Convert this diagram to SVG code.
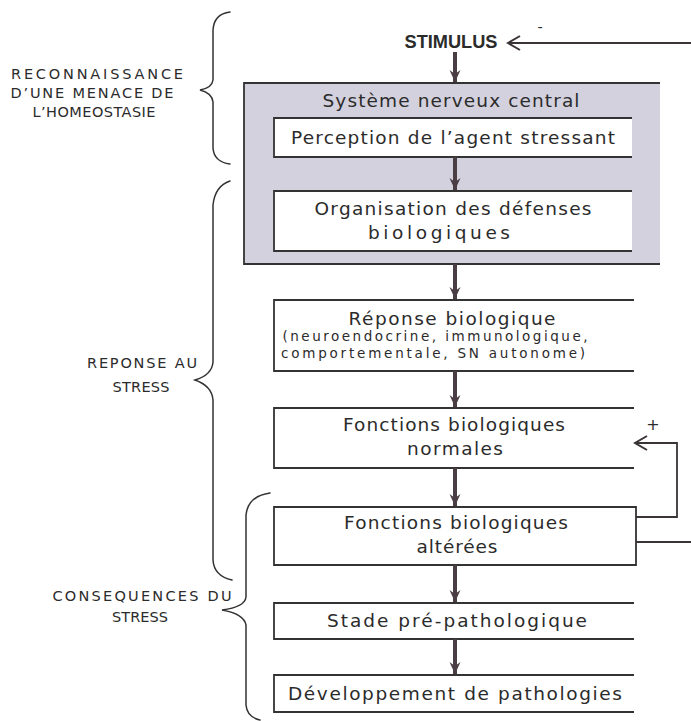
<svg xmlns="http://www.w3.org/2000/svg" width="691" height="721" viewBox="0 0 691 721">
<style>
.t{font-family:"DejaVu Sans","Liberation Sans",sans-serif;font-size:18.5px;fill:#2b2b2b;text-anchor:middle}
.s{font-family:"DejaVu Sans","Liberation Sans",sans-serif;font-size:13.5px;fill:#2b2b2b;text-anchor:middle}
.l{font-family:"DejaVu Sans","Liberation Sans",sans-serif;font-size:14.5px;fill:#2b2b2b;text-anchor:middle}
.b{fill:#fff;stroke:none}
.e{fill:none;stroke:#333;stroke-width:1.8}
.br{fill:none;stroke:#333;stroke-width:1.5;stroke-linecap:round}
.ar{stroke:#4a3e44;stroke-width:4;fill:none}
.fb{stroke:#3a3436;stroke-width:1.8;fill:none}
</style>
<defs>
<marker id="ah" markerUnits="userSpaceOnUse" markerWidth="14" markerHeight="16" refX="12" refY="7" orient="auto" viewBox="0 0 14 14">
<path d="M0,1.5 L12,7 L0,12.5 L4,7 z" fill="#4a3e44"/>
</marker>
<marker id="ch" markerUnits="userSpaceOnUse" markerWidth="16" markerHeight="16" refX="14" refY="8" orient="auto" viewBox="0 0 16 16">
<path d="M2,1 L14,8 L2,15" fill="none" stroke="#3a3436" stroke-width="2"/>
</marker>
</defs>

<g id="stimulus">
<text x="451" y="48" style="font-family:'Liberation Sans',Arial,sans-serif;font-size:18px;font-weight:bold;fill:#2b2b2b" text-anchor="middle" textLength="93" lengthAdjust="spacingAndGlyphs">STIMULUS</text>
<text x="540" y="32" class="l">-</text>
</g>

<g id="snc">
<rect x="244" y="83" width="416" height="181" fill="#d3d1dd"/>
<path class="e" d="M660,83 H244 V264 H660"/>
<text x="451" y="107" class="t" textLength="257" lengthAdjust="spacing">Système nerveux central</text>
</g>

<g id="perception">
<rect class="b" x="274" y="118" width="358" height="39"/>
<path class="e" d="M632,118 H274 V157 H632"/>
<text x="453" y="144" class="t" textLength="324" lengthAdjust="spacing">Perception de l’agent stressant</text>
</g>

<g id="organisation">
<rect class="b" x="274" y="191" width="358" height="60"/>
<path class="e" d="M632,191 H274 V251 H632"/>
<text x="453" y="215" class="t" textLength="277" lengthAdjust="spacing">Organisation des défenses</text>
<text x="439" y="239" class="t" textLength="142" lengthAdjust="spacing">biologiques</text>
</g>

<g id="reponse">
<rect class="b" x="274" y="300" width="360" height="71"/>
<path class="e" d="M634,300 H274 V371 H634"/>
<text x="452" y="325" class="t" textLength="207" lengthAdjust="spacing">Réponse biologique</text>
<text x="435" y="341" class="s" textLength="305" lengthAdjust="spacing">(neuroendocrine, immunologique,</text>
<text x="433" y="358" class="s" textLength="304" lengthAdjust="spacing">comportementale, SN autonome)</text>
</g>

<g id="normales">
<rect class="b" x="274" y="408" width="360" height="60"/>
<path class="e" d="M634,408 H274 V468 H634"/>
<text x="454" y="431" class="t" textLength="222" lengthAdjust="spacing">Fonctions biologiques</text>
<text x="455" y="455" class="t" textLength="96" lengthAdjust="spacing">normales</text>
</g>

<g id="alterees">
<rect class="b" x="274" y="507" width="362" height="58"/>
<path class="e" d="M274,507 H636 V565 H274 Z"/>
<text x="456" y="529" class="t" textLength="224" lengthAdjust="spacing">Fonctions biologiques</text>
<text x="457" y="553" class="t" textLength="81" lengthAdjust="spacing">altérées</text>
</g>

<g id="stade">
<rect class="b" x="274" y="603" width="360" height="36"/>
<path class="e" d="M634,603 H274 V639 H634"/>
<text x="457" y="627" class="t" textLength="260" lengthAdjust="spacing">Stade pré-pathologique</text>
</g>

<g id="developpement">
<rect class="b" x="274" y="675" width="360" height="37"/>
<path class="e" d="M634,675 H274 V712 H634"/>
<text x="455" y="700" class="t" textLength="334" lengthAdjust="spacing">Développement de pathologies</text>
</g>

<g id="labels">
<text x="97" y="79" class="l" textLength="172" lengthAdjust="spacing">RECONNAISSANCE</text>
<text x="92" y="98" class="l" textLength="163" lengthAdjust="spacing">D’UNE MENACE DE</text>
<text x="94" y="117" class="l" textLength="123" lengthAdjust="spacing">L’HOMEOSTASIE</text>
<text x="142" y="368" class="l" textLength="110" lengthAdjust="spacing">REPONSE AU</text>
<text x="141" y="392" class="l" textLength="57" lengthAdjust="spacing">STRESS</text>
<text x="142" y="601" class="l" textLength="179" lengthAdjust="spacing">CONSEQUENCES DU</text>
<text x="140" y="622" class="l" textLength="56" lengthAdjust="spacing">STRESS</text>
</g>

<g id="braces">
<path class="br" d="M230,12 Q214,14 213,30 V80 Q212,88 200,90 Q212,93 213,102 V148 Q214,162 230,164"/>
<path class="br" d="M230,181 Q215,186 213,205 V362 Q212,375 195,380 Q212,386 213,400 V560 Q214,576 232,580"/>
<path class="br" d="M270,493 Q248,496 246,515 V597 Q245,607 222,610 Q244,614 246,625 V705 Q247,717 260,720"/>
</g>

<g id="connectors">
<line class="ar" x1="455" y1="52" x2="455" y2="82" marker-end="url(#ah)"/>
<line class="ar" x1="455" y1="157" x2="455" y2="190" marker-end="url(#ah)"/>
<line class="ar" x1="455" y1="264" x2="455" y2="299" marker-end="url(#ah)"/>
<line class="ar" x1="455" y1="371" x2="455" y2="407" marker-end="url(#ah)"/>
<line class="ar" x1="455" y1="468" x2="455" y2="506" marker-end="url(#ah)"/>
<line class="ar" x1="455" y1="565" x2="455" y2="602" marker-end="url(#ah)"/>
<line class="ar" x1="455" y1="639" x2="455" y2="674" marker-end="url(#ah)"/>
<path class="fb" d="M691,43 H508" marker-end="url(#ch)"/>
<path class="fb" d="M636,517 H677 V443 H635" marker-end="url(#ch)"/>
<path class="fb" d="M636,542 H691"/>
<text x="653" y="430" class="l" style="font-size:16px">+</text>
</g>
</svg>
